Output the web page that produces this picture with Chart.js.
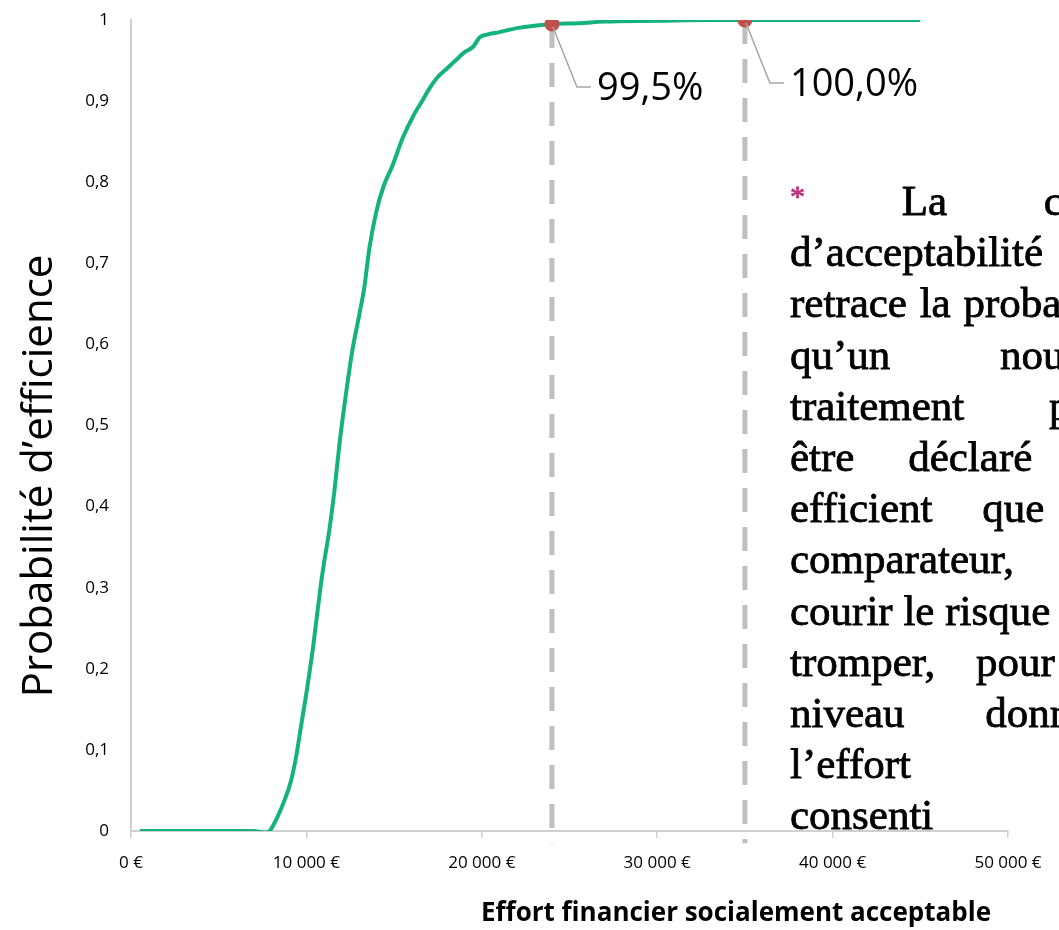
<!DOCTYPE html>
<html lang="fr">
<head>
<meta charset="utf-8">
<title>Courbe d’acceptabilité</title>
<script src="https://cdn.jsdelivr.net/npm/chart.js@4.4.1/dist/chart.umd.min.js"></script>
<style>
  html, body { margin: 0; padding: 0; background: #fff; overflow: hidden; }
  #wrap { position: relative; width: 1059px; height: 930px; }
  #cac { position: absolute; left: 0; top: 0; }
  #note {
    position: absolute; left: 790px; top: 170px;
    font-family: "Liberation Serif", "Times New Roman", serif;
    font-size: 43px; line-height: 51.2px; color: #000;
    -webkit-text-stroke: 0.8px #000;
    white-space: nowrap; pointer-events: none;
  }
  #note .star { color: #c2307a; -webkit-text-stroke: 0.8px #c2307a; font-size: 30px; vertical-align: 9px; }
</style>
</head>
<body>
<div id="wrap">
  <canvas id="cac" width="1059" height="930"></canvas>
  <div id="note"></div>
</div>
<script>
// Acceptability curve: willingness-to-pay (EUR) vs probability of efficiency
const effort = [500, 2000, 4000, 6000, 7000, 7600, 7900, 8300, 8700, 9100, 9400, 9700,
  10000, 10400, 10800, 11000, 11300, 11600, 11900, 12200, 12600, 13000, 13300, 13600,
  14000, 14400, 14900, 15500, 16100, 16600, 17000, 17500, 18000, 18500, 19000, 19500,
  19900, 20300, 21000, 22000, 23000, 24000, 25500, 27000, 30000, 33000, 35000, 40000, 45000];
const probability = [0, 0, 0, 0, 0, -0.002, 0, 0.015, 0.035, 0.06, 0.09, 0.13,
  0.17, 0.23, 0.3, 0.33, 0.37, 0.42, 0.48, 0.53, 0.59, 0.635, 0.67, 0.72,
  0.765, 0.795, 0.82, 0.855, 0.882, 0.9, 0.915, 0.93, 0.94, 0.95, 0.96, 0.967,
  0.979, 0.982, 0.985, 0.99, 0.993, 0.995, 0.996, 0.998, 0.999, 1, 1, 1, 1];

// Highlighted thresholds
const markerEffort = [24000, 35000];
const markerProb = [0.995, 1.0];

// Axis ticks
const xTicks = [0, 10000, 20000, 30000, 40000, 50000];
const yTicks = [0, 0.1, 0.2, 0.3, 0.4, 0.5, 0.6, 0.7, 0.8, 0.9, 1];

// Side note, one entry per printed line, with its word spacing
const noteLines = ["La courbe", "d’acceptabilité", "retrace la probabilité", "qu’un nouveau",
  "traitement puisse", "être déclaré plus", "efficient que son", "comparateur, sans",
  "courir le risque de se", "tromper, pour chaque", "niveau donné de",
  "l’effort financier", "consenti"];
const noteSpacing = [86, 0, 2, 99, 74, 43, 39, 60, 0, 30, 70, 300, 0];

const euro = v => (v === 0 ? '0' : String(v).replace(/\B(?=(\d{3})+(?!\d))/g, ' ')) + ' €';
const dec = v => {
  const r = Math.round(v * 10) / 10;
  return (r === 0 || r === 1) ? String(r) : r.toFixed(1).replace('.', ',');
};
const pct = v => (v * 100).toFixed(1).replace('.', ',') + '%';

const TICK_FONT = { family: '"Open Sans", sans-serif', size: 17 };

const curve = effort.map((x, i) => ({ x, y: probability[i] }));
const markers = markerEffort.map((x, i) => ({ x, y: markerProb[i] }));
const dropLines = markerEffort.map((x, i) => ({
  data: [{ x, y: markerProb[i] }, { x, y: -0.015 }],
  borderColor: '#bfbfbf', borderWidth: 5, borderDash: [24, 15],
  pointRadius: 0, tension: 0, clip: false, order: 3
}));

const overlay = {
  id: 'overlay',
  afterDatasetsDraw(chart) {
    const { ctx, chartArea, scales: { x, y } } = chart;
    ctx.save();
    // leader lines and value labels
    markers.forEach(m => {
      const px = x.getPixelForValue(m.x), py = y.getPixelForValue(m.y);
      ctx.strokeStyle = '#a6a6a6'; ctx.lineWidth = 1.5;
      ctx.beginPath();
      ctx.moveTo(px + 1, py + 3);
      ctx.lineTo(px + 25, py + 63);
      ctx.lineTo(px + 39, py + 63);
      ctx.stroke();
      ctx.fillStyle = '#000';
      ctx.font = '38px "Open Sans", sans-serif';
      ctx.textAlign = 'left'; ctx.textBaseline = 'middle';
      ctx.fillText(pct(m.y), px + 45, py + 65);
    });
    // axis titles
    ctx.fillStyle = '#000';
    ctx.font = 'bold 26px "Open Sans", sans-serif';
    ctx.textAlign = 'center'; ctx.textBaseline = 'middle';
    ctx.fillText('Effort financier socialement acceptable', chartArea.left + 605, chartArea.bottom + 83);
    ctx.translate(40, chartArea.top + 456);
    ctx.rotate(-Math.PI / 2);
    ctx.font = '42px "Open Sans", sans-serif';
    ctx.fillText('Probabilité d’efficience', 0, 0);
    ctx.restore();
  }
};

new Chart(document.getElementById('cac'), {
  type: 'line',
  data: {
    datasets: [
      { data: curve, borderColor: '#14b37a', borderWidth: 4, pointRadius: 0,
        tension: 0.4, cubicInterpolationMode: 'monotone', order: 2 },
      { data: markers, showLine: false, pointRadius: 7.5, pointHoverRadius: 7.5,
        backgroundColor: '#c0504d', borderWidth: 0, order: 1 },
      ...dropLines
    ]
  },
  options: {
    responsive: false, animation: false, devicePixelRatio: 1,
    layout: { autoPadding: false, padding: { top: 20, right: 51, left: 0, bottom: 0 } },
    plugins: { legend: { display: false }, tooltip: { enabled: false } },
    scales: {
      x: {
        type: 'linear', min: 0, max: 50000,
        afterFit: s => { s.height = 99; s.paddingLeft = 0; s.paddingRight = 0; },
        afterBuildTicks: s => { s.ticks = xTicks.map(value => ({ value })); },
        ticks: { callback: euro, font: TICK_FONT, color: '#000', padding: 15, maxRotation: 0 },
        grid: { drawOnChartArea: false, drawTicks: true, tickLength: 7, color: '#d0d0d0', lineWidth: 1.5 },
        border: { color: '#d0d0d0', width: 2 }
      },
      y: {
        min: 0, max: 1,
        afterFit: s => { s.width = 131; s.paddingTop = 0; s.paddingBottom = 0; },
        afterBuildTicks: s => { s.ticks = yTicks.map(value => ({ value })); },
        ticks: { callback: dec, font: TICK_FONT, color: '#000', padding: 22 },
        grid: { drawOnChartArea: false, drawTicks: false },
        border: { color: '#d0d0d0', width: 2 }
      }
    }
  },
  plugins: [overlay]
});

// side note text block
const note = document.getElementById('note');
noteLines.forEach((t, i) => {
  const div = document.createElement('div');
  div.style.wordSpacing = noteSpacing[i] + 'px';
  if (i === 0) {
    const s = document.createElement('span');
    s.className = 'star'; s.textContent = '*';
    div.appendChild(s);
    div.appendChild(document.createTextNode(' ' + t));
  } else {
    div.textContent = t;
  }
  note.appendChild(div);
});
</script>
</body>
</html>
